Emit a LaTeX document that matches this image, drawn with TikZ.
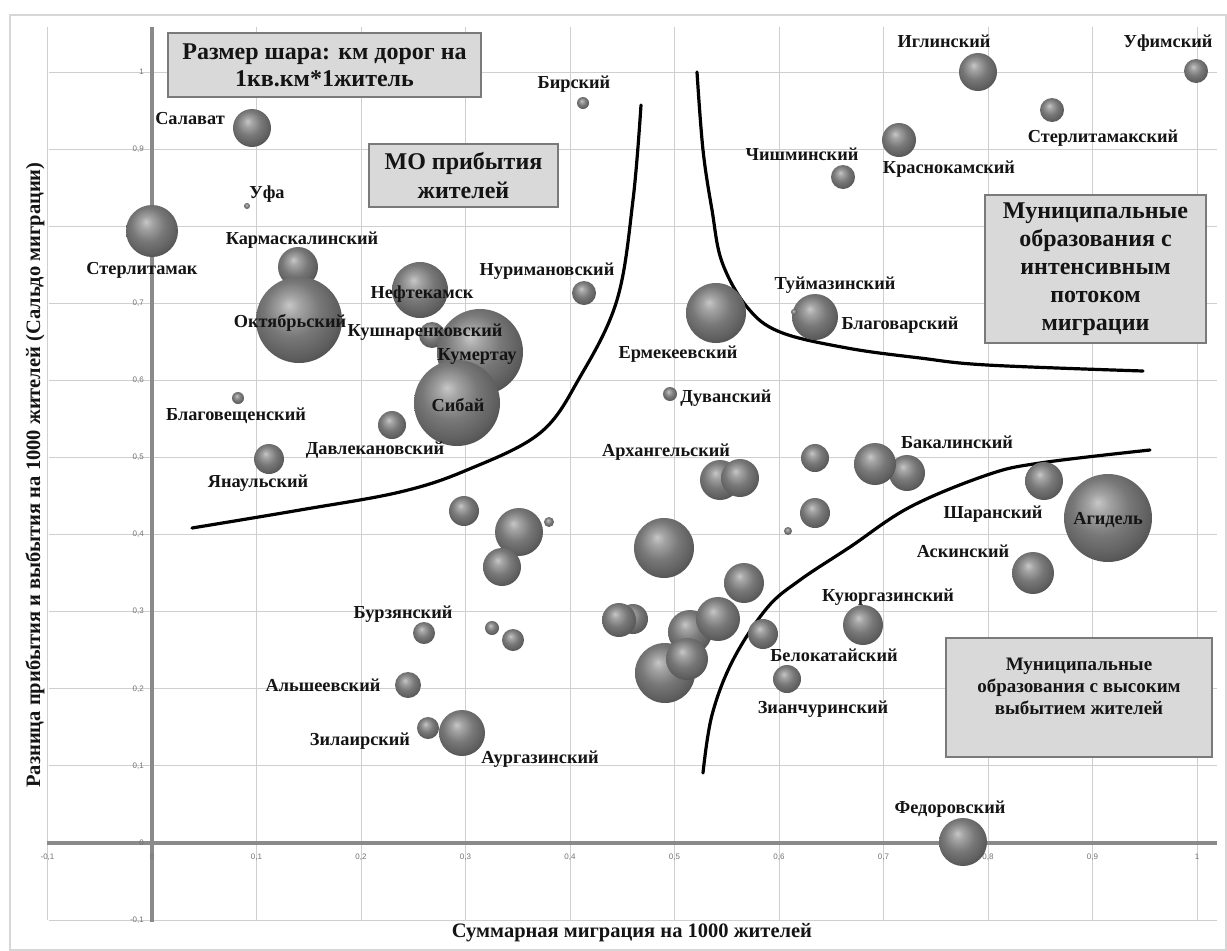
\documentclass[tikz,border=0pt]{standalone}
\usepackage{fontspec}
\setmainfont{Liberation Serif}
\newfontfamily\tickfont{Liberation Sans}
\pgfdeclareradialshading{sphere}{\pgfpoint{-6bp}{9bp}}{color(0bp)=(black!22); color(6bp)=(black!36); color(16bp)=(black!53); color(26bp)=(black!63); color(34bp)=(black!74); color(50bp)=(black!76)}
\definecolor{gridc}{HTML}{CFCFCF}
\definecolor{axisc}{HTML}{8A8A8A}
\definecolor{boxfill}{HTML}{D9D9D9}
\definecolor{boxdraw}{HTML}{7A7A7A}
\definecolor{framec}{HTML}{D6D6D6}
\tikzset{
  ballnode/.style={circle, inner sep=0pt, outer sep=0pt, shade, shading=sphere, draw=none},
  lbl/.style={font=\fontsize{18.3}{20}\selectfont\bfseries, text=black!92, inner sep=0pt, anchor=base},
  tickl/.style={font=\tickfont\fontsize{8}{9}\selectfont, text=black!55, inner sep=0pt},
  infobox/.style={draw=boxdraw, line width=1.8pt, fill=boxfill, align=center, inner sep=0pt, text=black!92},
  curve/.style={line width=3.2pt, black, line cap=round},
  gridl/.style={gridc, line width=1pt},
  axisl/.style={axisc, line width=4pt},
  ttl/.style={font=\fontsize{20.5}{23}\selectfont\bfseries, text=black!92, inner sep=0pt}
}
\begin{document}
\begin{tikzpicture}[x=1pt,y=-1pt]
\useasboundingbox (0,0) rectangle (1227,951);
\fill[white] (0,0) rectangle (1227,951);
\draw[framec, line width=1.5pt] (10,15) rectangle (1226,950);
% grid
\foreach \v in {-1,...,10} {
  \draw[gridl] ({152+\v*104.5},27) -- ({152+\v*104.5},920);
  \draw[gridl] (49,{843-\v*77.1}) -- (1217,{843-\v*77.1});
}
% axes
\draw[axisl] (47,843) -- (1217,843);
\draw[axisl] (152,27) -- (152,922);
% tick labels
\foreach \v/\t [count=\i] in {-1/{-0,1},0/0,1/{0,1},2/{0,2},3/{0,3},4/{0,4},5/{0,5},6/{0,6},7/{0,7},8/{0,8},9/{0,9},10/1} {
  \node[tickl] (xt\i) at ({152+\v*104.5},857) {\t};
  \node[tickl, anchor=east] (yt\i) at (144,{843-\v*77.1}) {\t};
}
% curves
\draw[curve] plot[smooth, tension=0.6] coordinates {(192,528) (300,510) (400,492) (467,470) (540,433) (580,377) (617,300) (633,200) (641,105)};
\draw[curve] plot[smooth, tension=0.6] coordinates {(697,72) (703,150) (712,210) (722,262) (747,307) (780,332) (847,348) (920,358) (987,365) (1143,371)};
\draw[curve] plot[smooth, tension=0.6] coordinates {(1150,450) (1040,463) (987,475) (910,507) (850,547) (800,580) (767,608) (733,660) (712,715) (703,773)};
% bubbles (back to front)
\foreach \x/\y/\r [count=\i] in {
 152/231/26, 252/128/19, 247/206/3, 298/267/20, 299/320/43, 420/290/28, 432/335/13,
 480/352/43, 457/403/43, 238/398/6, 392/425/14, 269/459/15, 583/103/6, 584/293/12,
 716/313/30, 670/394/7, 720/480/20, 740/478/19, 815/317/23, 794/312/3, 978/72/19,
 1196/71/12, 1052/110/12, 899/140/17, 843/177/12, 907/473/18, 875/464/21, 1044/481/19,
 1108/518/44, 1033/573/21, 863/625/20, 763/634/15, 787/679/14, 963/842/24, 424/633/11,
 408/685/13, 428/728/11, 462/733/23, 815/458/14, 815/513/15, 788/531/4, 464/511/15,
 519/532/24, 549/522/5, 502/567/19, 664/548/30, 744/583/20, 492/628/7, 513/640/11,
 633/619/15, 619/620/17, 690/632/22, 718/619/22, 665/673/30, 687/659/21} {
  \node[ballnode, minimum size={2*\r pt}] (b\i) at (\x,\y) {};
}
% labels
\foreach \x/\y/\t [count=\i] in {
 190/118/Салават, 267/192/Уфа, 142/268/Стерлитамак, 302/238/Кармаскалинский,
 290/321/Октябрьский, 422/292/Нефтекамск, 425/330/Кушнаренковский, 477/354/Кумертау,
 458/405/Сибай, 236/414/Благовещенский, 375/448/Давлекановский, 258/481/Янаульский,
 574/82/Бирский, 547/269/Нуримановский, 678/352/Ермекеевский, 726/396/Дуванский,
 666/450/Архангельский, 835/283/Туймазинский, 900/323/Благоварский, 944/41/Иглинский,
 1168/41/Уфимский, 1103/136/Стерлитамакский, 949/167/Краснокамский, 802/154/Чишминский,
 957/442/Бакалинский, 993/512/Шаранский, 1108/518/Агидель, 963/551/Аскинский,
 888/595/Куюргазинский, 834/655/Белокатайский, 823/707/Зианчуринский, 950/807/Федоровский,
 403/612/Бурзянский, 323/685/Альшеевский, 360/739/Зилаирский, 540/757/Аургазинский} {
  \node[lbl] (l\i) at (\x,{\y+6}) {\t};
}
% boxes
\node[infobox, minimum width=313pt, minimum height=64pt, font=\fontsize{24}{27}\selectfont\bfseries] (box1) at (324.5,65) {Размер шара: км дорог на\\1кв.км*1житель};
\node[infobox, minimum width=189pt, minimum height=63pt, font=\fontsize{24}{29}\selectfont\bfseries] (box2) at (463.5,175.5) {МО прибытия\\жителей};
\node[infobox, minimum width=221pt, minimum height=148pt, font=\fontsize{24}{28}\selectfont\bfseries] (box3) at (1095.5,269) {Муниципальные\\образования с\\интенсивным\\потоком\\миграции};
\node[infobox, minimum width=266pt, minimum height=119pt, font=\fontsize{19}{22}\selectfont\bfseries] (box4) at (1079,697.5) {Муниципальные\\образования с высоким\\выбытием жителей\\~};
% axis titles
\node[ttl] (xtitle) at (632,933) {Суммарная миграция на 1000 жителей};
\node[ttl, rotate=90] (ytitle) at (35,475) {Разница прибытия и выбытия на 1000 жителей (Сальдо миграции)};
\end{tikzpicture}
\end{document}
